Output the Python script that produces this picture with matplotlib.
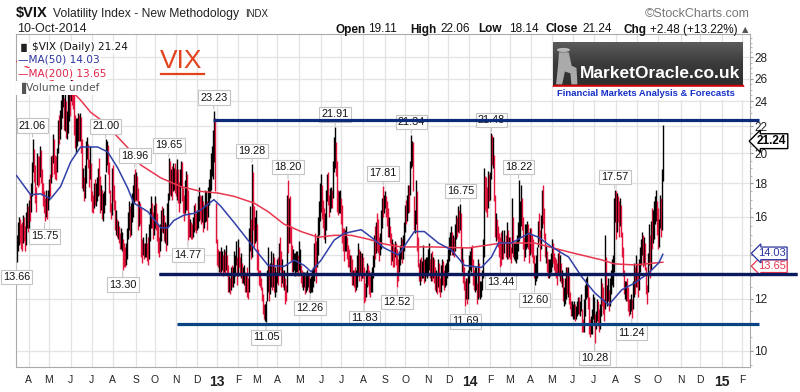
import matplotlib
matplotlib.use('Agg')
import matplotlib.pyplot as plt
import matplotlib.transforms as mtransforms
from matplotlib.ticker import FixedLocator, FixedFormatter, NullFormatter
from matplotlib.patches import Rectangle, Circle, Polygon
import numpy as np
import pandas as pd

plt.rcParams['font.family'] = ['Liberation Sans', 'DejaVu Sans']

# ---------------- data ----------------
START = '2012-03-15'
CAL_END = '2015-02-27'
HOLIDAYS = ['2012-04-06', '2012-05-28', '2012-07-04', '2012-09-03', '2012-10-29', '2012-10-30',
            '2012-11-22', '2012-12-25', '2013-01-01', '2013-01-21', '2013-02-18', '2013-03-29',
            '2013-05-27', '2013-07-04', '2013-09-02', '2013-11-28', '2013-12-25', '2014-01-01',
            '2014-01-20', '2014-02-17', '2014-04-18', '2014-05-26', '2014-07-04', '2014-09-01',
            '2014-11-27', '2014-12-25', '2015-01-01', '2015-01-19', '2015-02-16']

close = [
    14.5, 15.0, 15.6, 15.1, 14.9, 14.8, 15.5, 15.3, 14.6, 15.6,
    16.3, 15.5, 16.6, 16.4, 17.2, 18.8, 20.4, 18.8, 17.4, 16.9,
    19.5, 18.6, 18.5, 20.1, 18.6, 18.0, 17.2, 16.8, 16.3, 16.9,
    16.5, 17.1, 17.8, 17.6, 19.2, 19.0, 20.7, 19.1, 19.0, 18.8,
    19.9, 21.9, 21.5, 22.3, 22.8, 24.5, 25.1, 22.0, 22.5, 21.8,
    21.8, 24.1, 24.1, 23.3, 26.7, 24.1, 23.8, 22.2, 21.0, 21.2,
    21.7, 22.1, 21.8, 22.3, 21.1, 18.3, 18.3, 17.2, 18.1, 20.1,
    20.6, 19.5, 18.4, 19.7, 17.1, 16.8, 16.7, 17.5, 17.1, 17.1,
    17.9, 18.3, 18.2, 16.7, 17.1, 16.5, 16.6, 16.9, 17.5, 20.2,
    20.5, 19.3, 18.0, 16.7, 16.3, 18.9, 17.6, 17.0, 15.6, 15.9,
    15.3, 15.3, 15.0, 14.6, 14.7, 14.7, 14.2, 13.7, 13.5, 14.0,
    15.1, 15.5, 16.3, 15.2, 16.3, 16.7, 17.1, 18.0, 17.5, 17.98,
    17.7, 15.6, 16.4, 16.3, 14.1, 14.0, 14.6, 14.2, 14.2, 14.2,
    14.1, 13.9, 15.3, 15.4, 16.3, 15.9, 15.3, 16.0, 16.3, 16.0,
    15.4, 14.6, 14.3, 14.8, 16.0, 15.9, 15.9, 15.2, 15.2, 14.7,
    15.6, 17.1, 18.9, 18.1, 18.1, 17.7, 18.3, 18.6, 18.4, 18.2,
    18.6, 17.6, 17.0, 18.4, 19.1, 17.6, 16.6, 16.4, 17.5, 17.9,
    17.5, 16.4, 15.2, 15.3, 15.2, 15.1, 15.5, 16.2, 15.9, 15.6,
    15.9, 16.0, 17.0, 16.6, 16.5, 16.6, 15.6, 16.0, 16.3, 16.6,
    15.9, 17.1, 17.4, 18.0, 18.9, 19.5, 19.5, 22.7, 18.0, 14.7,
    14.0, 13.8, 13.8, 13.6, 13.7, 13.8, 13.4, 13.8, 13.6, 13.8,
    13.6, 12.5, 12.5, 12.4, 13.0, 12.9, 12.9, 13.6, 13.6, 14.3,
    12.9, 14.7, 13.7, 13.4, 13.4, 13.0, 13.0, 13.0, 12.6, 12.7,
    12.5, 12.3, 14.7, 15.2, 14.0, 18.99, 16.0, 14.8, 15.0, 15.4,
    13.8, 13.5, 12.9, 12.8, 12.6, 12.0, 11.6, 11.3, 11.3, 11.3,
    12.5, 13.0, 12.0, 13.0, 13.0, 12.7, 13.6, 12.6, 12.7, 12.7,
    13.6, 13.0, 14.2, 13.9, 12.9, 13.2, 12.8, 12.8, 12.2, 12.1,
    17.3, 14.6, 16.5, 14.97, 14.0, 13.5, 13.5, 13.6, 13.6, 13.6,
    13.7, 13.5, 13.6, 13.6, 12.9, 12.7, 12.7, 12.8, 12.6, 12.6,
    12.7, 12.8, 12.3, 12.4, 12.5, 12.5, 13.0, 14.0, 13.8, 12.9,
    14.5, 15.0, 16.3, 16.9, 17.5, 16.3, 15.9, 15.1, 15.4, 16.8,
    18.0, 17.1, 16.4, 16.7, 17.0, 16.8, 18.9, 20.5, 20.9, 18.9,
    17.0, 16.7, 16.9, 16.9, 16.1, 15.0, 14.5, 14.4, 14.8, 14.8,
    14.2, 14.0, 13.8, 13.8, 13.4, 13.0, 13.0, 12.9, 12.6, 13.0,
    13.4, 14.0, 13.5, 13.7, 13.4, 13.7, 13.4, 12.9, 12.0, 12.7,
    13.0, 12.9, 12.7, 12.4, 12.8, 13.0, 13.3, 14.5, 14.4, 15.1,
    15.0, 14.8, 13.9, 14.8, 14.9, 16.8, 16.3, 16.8, 17.0, 16.6,
    16.4, 15.3, 15.4, 15.0, 13.8, 14.5, 14.0, 13.8, 14.4, 14.0,
    13.6, 13.1, 14.0, 14.0, 14.2, 14.1, 14.5, 15.3, 16.4, 16.1,
    16.6, 17.7, 16.7, 19.4, 20.3, 20.3, 18.4, 15.7, 16.1, 18.1,
    14.7, 13.5, 13.0, 13.3, 13.2, 13.2, 13.3, 13.1, 13.3, 13.4,
    13.4, 13.8, 13.8, 13.2, 13.7, 13.4, 13.4, 12.9, 12.7, 12.8,
    12.5, 13.4, 12.8, 12.2, 12.9, 13.1, 13.0, 12.6, 12.8, 13.0,
    13.3, 13.9, 14.4, 14.6, 14.9, 14.4, 14.5, 14.3, 15.0, 15.6,
    15.4, 16.0, 15.8, 15.9, 13.8, 13.8, 13.0, 12.8, 12.0, 12.5,
    12.3, 12.5, 13.6, 13.7, 14.2, 13.8, 13.0, 12.9, 12.9, 12.9,
    12.1, 13.3, 12.3, 12.3, 12.4, 12.9, 13.8, 18.1, 17.4, 17.3,
    16.5, 18.4, 17.3, 18.4, 21.4, 19.9, 19.95, 17.2, 15.3, 15.4,
    15.3, 14.8, 14.3, 14.1, 13.6, 14.4, 14.2, 14.7, 14.3, 14.5,
    14.2, 14.4, 14.3, 14.0, 16.0, 14.1, 14.2, 14.2, 14.2, 14.2,
    14.8, 16.2, 16.2, 17.8, 15.6, 14.5, 14.3, 14.5, 15.0, 15.1,
    14.8, 14.0, 14.9, 14.6, 14.4, 13.9, 13.1, 13.1, 13.4, 13.4,
    15.6, 14.9, 13.8, 15.9, 17.0, 16.1, 15.1, 14.0, 14.2, 13.4,
    13.2, 13.3, 13.3, 13.7, 14.1, 13.97, 13.7, 13.4, 13.2, 13.0,
    13.8, 13.4, 13.4, 12.9, 12.9, 12.1, 12.2, 12.2, 13.2, 12.4,
    12.96, 12.0, 11.9, 11.4, 11.4, 11.5, 11.7, 11.4, 11.5, 11.6,
    11.9, 11.6, 11.7, 11.7, 11.1, 11.0, 11.4, 12.2, 12.6, 12.6,
    12.1, 11.0, 10.6, 10.9, 11.0, 11.6, 11.6, 11.0, 11.3, 11.6,
    11.2, 11.0, 11.3, 12.5, 12.0, 11.8, 11.3, 14.5, 12.1, 12.1,
    12.2, 11.8, 12.7, 12.8, 13.3, 13.3, 16.9, 16.95, 15.1, 16.7,
    16.4, 15.8, 16.7, 15.1, 14.2, 13.2, 12.4, 12.4, 12.4, 12.3,
    11.8, 11.5, 11.7, 11.8, 11.5, 12.3, 12.9, 12.6, 13.3, 13.0,
    12.5, 13.3, 13.9, 14.1, 14.9, 13.8, 14.7, 13.9, 12.8, 12.1,
    13.7, 14.9, 13.1, 15.6, 14.9, 15.0, 16.0, 16.3, 16.7, 15.3,
    14.6, 15.5, 17.2, 15.1, 18.76, 21.24,
]

low = [
    13.66, 14.2, 14.5, 14.6, 14.3, 14.2, 14.6, 14.7, 14.2, 14.5,
    15.4, 15.2, 15.4, 15.8, 16.3, 17.2, 18.7, 18.1, 16.8, 16.3,
    17.9, 17.8, 17.9, 18.4, 18.0, 17.3, 16.6, 16.2, 15.75, 16.0,
    15.9, 16.4, 17.0, 17.2, 18.0, 18.4, 19.3, 18.6, 18.3, 18.2,
    18.7, 20.0, 20.7, 21.0, 21.8, 22.6, 23.5, 21.7, 21.6, 21.1,
    21.0, 21.5, 22.4, 22.8, 24.0, 23.7, 23.4, 21.3, 20.4, 20.0,
    20.5, 20.9, 20.9, 20.9, 20.0, 17.7, 17.5, 16.9, 17.1, 18.0,
    19.6, 19.0, 17.8, 18.3, 16.9, 16.3, 16.2, 16.5, 16.7, 16.6,
    16.9, 17.2, 17.3, 16.2, 16.4, 15.9, 15.8, 16.2, 16.7, 18.7,
    19.2, 18.6, 17.4, 16.3, 15.9, 16.1, 16.9, 16.4, 15.3, 15.0,
    14.9, 14.8, 14.6, 14.3, 14.3, 14.2, 13.3, 13.4, 13.4, 13.5,
    13.8, 14.8, 15.3, 14.9, 15.0, 15.7, 16.0, 16.8, 16.9, 17.0,
    16.9, 15.3, 15.5, 15.6, 13.9, 13.6, 14.0, 13.8, 13.9, 13.9,
    13.7, 13.5, 13.8, 14.7, 15.4, 15.4, 14.8, 15.0, 15.4, 15.3,
    14.7, 14.1, 13.9, 14.2, 14.7, 15.2, 15.1, 14.7, 14.6, 14.2,
    14.5, 15.5, 17.0, 17.3, 17.2, 17.0, 17.5, 17.6, 17.4, 17.2,
    17.0, 16.8, 16.3, 16.8, 17.8, 16.9, 16.2, 15.8, 16.2, 16.4,
    16.4, 14.77, 14.9, 14.9, 14.8, 14.8, 14.9, 15.2, 15.3, 15.1,
    15.3, 15.4, 15.8, 15.9, 15.6, 15.7, 15.2, 15.4, 15.7, 15.8,
    15.3, 16.0, 16.7, 17.1, 17.6, 18.5, 18.3, 19.4, 17.5, 14.6,
    13.5, 13.4, 13.2, 13.1, 13.2, 13.3, 13.0, 13.2, 13.1, 13.3,
    13.0, 12.3, 12.3, 12.2, 12.4, 12.5, 12.5, 12.7, 13.0, 13.5,
    12.6, 13.0, 13.4, 13.0, 12.9, 12.7, 12.7, 12.6, 12.3, 12.3,
    12.1, 12.0, 12.3, 14.2, 13.8, 13.9, 15.3, 14.4, 14.6, 14.7,
    13.3, 13.1, 12.6, 12.5, 12.4, 11.9, 11.4, 11.2, 11.1, 11.05,
    11.9, 12.3, 11.9, 12.2, 12.5, 12.4, 12.5, 12.3, 12.1, 12.3,
    12.7, 12.6, 13.1, 13.3, 12.5, 12.7, 12.5, 12.4, 11.8, 11.9,
    12.3, 14.1, 14.6, 14.6, 13.7, 13.2, 13.2, 13.3, 13.0, 13.2,
    13.2, 13.0, 13.3, 13.1, 12.7, 12.5, 12.4, 12.5, 12.2, 12.3,
    12.4, 12.5, 12.3, 12.26, 12.3, 12.3, 12.5, 12.8, 13.2, 12.7,
    13.4, 14.0, 15.0, 15.8, 16.3, 15.9, 15.4, 14.8, 14.6, 15.3,
    16.9, 16.7, 16.0, 16.3, 16.5, 16.5, 17.1, 18.7, 19.0, 18.5,
    16.3, 16.1, 16.2, 16.2, 15.6, 14.6, 14.2, 13.7, 14.2, 14.2,
    13.8, 13.4, 13.4, 13.2, 13.0, 12.6, 12.6, 12.5, 12.3, 12.4,
    12.5, 13.0, 12.8, 13.1, 12.8, 12.9, 12.9, 11.83, 11.9, 12.1,
    12.5, 12.6, 12.2, 12.1, 12.3, 12.3, 12.9, 13.4, 13.8, 14.1,
    14.2, 14.1, 13.7, 14.0, 14.3, 15.4, 16.0, 16.2, 16.5, 16.0,
    15.5, 14.9, 14.9, 14.6, 13.5, 13.7, 13.4, 13.4, 13.9, 13.5,
    12.52, 12.8, 13.2, 13.5, 13.8, 13.6, 13.8, 14.2, 15.2, 15.6,
    15.8, 16.2, 16.3, 17.3, 19.0, 19.1, 17.5, 15.3, 15.1, 15.6,
    14.2, 13.4, 12.8, 12.6, 12.8, 12.9, 12.9, 12.7, 12.8, 13.0,
    12.9, 13.1, 13.3, 12.9, 12.8, 12.8, 12.9, 12.7, 12.4, 12.3,
    12.2, 12.5, 12.3, 12.1, 12.3, 12.6, 12.6, 12.4, 12.5, 12.6,
    12.9, 13.2, 13.7, 14.0, 14.2, 14.0, 14.0, 13.9, 14.2, 14.8,
    14.9, 15.2, 15.1, 15.3, 13.6, 13.2, 12.7, 12.4, 11.69, 12.0,
    11.8, 12.0, 12.7, 13.3, 13.2, 13.4, 12.6, 12.4, 12.3, 12.4,
    11.8, 12.0, 12.1, 12.0, 12.1, 12.4, 12.9, 13.9, 16.4, 16.3,
    16.0, 16.5, 16.9, 17.0, 18.3, 19.2, 19.0, 16.9, 14.9, 14.7,
    14.8, 14.4, 13.9, 13.44, 13.5, 13.8, 13.8, 14.1, 13.9, 13.8,
    13.8, 13.9, 13.8, 13.6, 14.1, 13.9, 13.8, 13.7, 13.6, 13.8,
    14.2, 14.7, 14.9, 15.5, 15.3, 14.3, 13.7, 13.9, 14.3, 14.4,
    14.3, 13.6, 14.0, 14.1, 13.9, 13.6, 12.9, 12.6, 12.8, 12.9,
    14.4, 14.7, 13.7, 14.3, 15.4, 15.6, 14.8, 13.9, 13.6, 13.2,
    12.9, 12.9, 13.0, 13.2, 13.4, 13.6, 13.3, 13.1, 12.9, 12.6,
    13.1, 13.0, 12.8, 12.7, 12.5, 11.9, 11.7, 11.8, 12.0, 12.2,
    12.1, 11.8, 11.6, 11.3, 11.3, 11.2, 11.2, 11.1, 11.2, 11.3,
    11.4, 11.4, 11.3, 11.5, 10.7, 10.7, 10.7, 11.3, 12.0, 12.1,
    11.6, 10.6, 10.5, 10.6, 10.6, 11.2, 11.0, 10.28, 10.8, 11.1,
    10.9, 10.7, 10.8, 11.3, 11.7, 11.4, 11.1, 11.6, 11.9, 11.7,
    11.9, 11.5, 11.7, 12.2, 12.6, 12.5, 13.2, 15.7, 14.8, 15.2,
    15.7, 14.9, 15.5, 14.9, 13.9, 13.0, 12.2, 12.0, 11.9, 11.9,
    11.5, 11.3, 11.4, 11.5, 11.24, 11.6, 12.1, 12.2, 12.5, 12.5,
    12.1, 12.4, 13.2, 13.5, 14.0, 13.4, 13.5, 13.3, 12.2, 11.8,
    12.3, 13.5, 12.9, 13.3, 14.3, 14.6, 14.8, 15.6, 15.8, 15.0,
    14.3, 14.4, 15.4, 14.9, 15.3, 18.14,
]

high = [
    15.0, 15.7, 16.0, 15.9, 15.6, 15.7, 16.1, 16.0, 15.5, 16.3,
    16.8, 16.6, 17.0, 17.4, 18.0, 19.4, 21.06, 20.3, 19.2, 17.8,
    20.0, 19.8, 19.8, 20.5, 20.2, 18.9, 18.0, 17.5, 17.1, 17.6,
    17.2, 17.6, 18.3, 18.6, 19.8, 19.9, 21.4, 21.0, 19.9, 19.8,
    20.4, 22.5, 22.9, 23.3, 24.1, 25.1, 25.4, 24.3, 24.8, 24.0,
    23.2, 24.6, 25.3, 25.2, 26.7, 26.2, 25.0, 24.7, 22.9, 22.6,
    22.6, 23.0, 22.9, 23.0, 22.7, 21.0, 19.0, 18.4, 19.2, 20.9,
    21.2, 20.7, 19.6, 20.5, 19.3, 17.5, 17.3, 18.0, 18.3, 18.0,
    18.4, 19.0, 19.7, 18.5, 17.9, 17.6, 17.4, 17.5, 18.6, 21.0,
    20.9, 20.6, 19.4, 17.6, 16.8, 19.0, 19.2, 17.9, 17.0, 16.4,
    15.9, 15.8, 15.5, 15.1, 15.4, 15.2, 14.8, 14.6, 14.4, 14.6,
    15.4, 16.3, 16.9, 16.6, 16.8, 17.4, 17.9, 18.6, 18.96, 18.7,
    18.5, 17.7, 16.9, 16.8, 16.5, 14.8, 14.9, 14.6, 14.6, 15.1,
    14.6, 14.9, 15.6, 16.5, 17.2, 16.8, 16.3, 16.7, 17.2, 16.8,
    16.2, 15.6, 14.9, 15.6, 16.4, 16.6, 16.5, 16.1, 15.7, 15.6,
    16.8, 17.4, 19.65, 19.5, 18.9, 19.1, 19.3, 19.0, 19.3, 18.9,
    19.6, 18.9, 18.1, 18.9, 19.5, 19.4, 17.7, 17.3, 18.2, 18.8,
    18.6, 17.6, 16.3, 15.9, 15.7, 15.6, 16.0, 16.7, 16.8, 16.2,
    16.4, 17.2, 17.8, 17.3, 17.2, 17.3, 16.9, 16.7, 17.6, 17.5,
    16.9, 17.8, 18.3, 18.9, 20.0, 20.5, 21.7, 23.23, 22.6, 16.8,
    14.8, 14.3, 14.2, 14.2, 14.4, 14.2, 14.0, 14.3, 14.2, 14.5,
    14.0, 13.5, 13.0, 12.9, 13.4, 13.5, 13.4, 14.2, 14.0, 14.7,
    13.9, 14.8, 14.4, 13.9, 14.1, 13.6, 13.4, 13.5, 13.2, 13.1,
    13.4, 12.9, 15.4, 16.6, 15.9, 19.28, 18.7, 16.6, 16.0, 16.4,
    15.6, 14.3, 13.3, 13.3, 12.9, 12.5, 12.2, 11.8, 11.8, 11.9,
    13.3, 14.4, 13.5, 13.6, 14.2, 13.6, 14.1, 13.9, 13.4, 13.2,
    13.8, 13.9, 14.6, 14.9, 14.2, 13.8, 13.3, 13.3, 12.9, 12.6,
    17.3, 18.2, 17.1, 17.2, 15.5, 14.5, 14.3, 14.1, 14.1, 14.2,
    14.2, 14.0, 14.7, 14.3, 13.5, 13.3, 13.2, 13.2, 13.0, 13.2,
    13.3, 13.1, 13.1, 12.9, 13.0, 13.3, 13.4, 14.6, 15.1, 14.7,
    15.0, 16.0, 16.9, 18.0, 18.6, 17.9, 17.0, 16.5, 16.2, 17.6,
    18.6, 18.7, 17.3, 17.7, 17.8, 17.6, 19.5, 21.2, 21.91, 20.8,
    19.5, 17.6, 17.5, 17.6, 17.1, 16.7, 15.4, 15.4, 15.3, 15.5,
    14.9, 14.5, 14.3, 14.0, 14.0, 13.8, 13.3, 13.3, 13.4, 13.3,
    14.0, 14.6, 14.3, 14.2, 14.1, 14.1, 13.9, 13.4, 12.7, 13.3,
    13.6, 13.5, 13.3, 13.0, 13.2, 13.4, 14.0, 15.0, 15.5, 15.7,
    16.2, 15.9, 14.9, 15.1, 16.4, 17.1, 17.81, 17.3, 17.5, 17.2,
    16.9, 16.5, 16.0, 15.5, 15.1, 14.8, 14.6, 14.4, 14.7, 14.6,
    14.3, 13.8, 14.2, 14.5, 14.9, 14.8, 15.0, 15.7, 16.7, 17.0,
    17.3, 17.9, 17.9, 19.5, 21.34, 20.9, 20.8, 17.2, 16.4, 18.2,
    17.5, 14.9, 13.6, 13.8, 13.9, 13.7, 14.5, 13.8, 13.8, 13.9,
    13.9, 14.3, 14.6, 13.8, 14.1, 14.2, 13.9, 13.8, 13.4, 13.3,
    13.0, 13.8, 13.6, 12.9, 13.5, 13.8, 13.7, 13.3, 13.5, 13.6,
    13.8, 14.3, 14.9, 15.2, 15.5, 15.2, 15.0, 14.9, 15.6, 16.1,
    16.0, 16.6, 16.4, 16.75, 16.2, 14.4, 13.8, 13.4, 12.8, 12.9,
    12.9, 13.3, 14.0, 14.2, 14.4, 14.5, 13.8, 13.3, 13.4, 13.4,
    12.7, 13.8, 13.6, 12.8, 12.8, 13.3, 14.8, 19.0, 18.5, 18.4,
    17.8, 18.8, 18.6, 18.7, 21.48, 21.3, 21.2, 19.9, 17.3, 16.2,
    15.9, 15.5, 15.1, 14.9, 15.2, 15.3, 14.7, 15.3, 15.0, 15.7,
    15.3, 14.9, 14.9, 14.4, 17.1, 16.0, 14.6, 14.6, 14.7, 15.0,
    15.7, 18.22, 16.9, 17.9, 17.1, 16.0, 14.9, 15.6, 15.6, 15.8,
    15.6, 15.2, 15.4, 15.4, 15.0, 14.8, 14.0, 13.6, 14.0, 14.4,
    15.8, 16.2, 15.3, 16.1, 17.6, 17.9, 16.5, 15.1, 14.5, 14.2,
    13.8, 13.8, 13.8, 14.1, 14.8, 14.6, 14.1, 13.9, 13.8, 13.6,
    14.1, 14.3, 14.0, 13.6, 13.3, 12.9, 12.5, 12.9, 13.4, 13.4,
    13.4, 13.0, 12.3, 11.9, 11.9, 11.8, 11.9, 11.8, 11.7, 11.9,
    12.1, 12.1, 11.9, 12.2, 11.6, 11.2, 12.0, 12.6, 12.9, 13.0,
    12.6, 12.1, 11.2, 11.3, 11.6, 12.2, 12.1, 11.4, 11.5, 12.0,
    11.9, 11.6, 11.8, 12.9, 12.7, 12.5, 12.0, 15.0, 13.9, 12.6,
    12.9, 12.4, 12.9, 13.3, 13.8, 14.0, 17.1, 17.57, 17.5, 17.4,
    17.2, 16.9, 17.1, 16.7, 15.2, 14.4, 13.3, 12.8, 12.8, 12.9,
    12.5, 12.0, 12.0, 12.2, 12.0, 12.8, 13.6, 13.4, 14.0, 13.6,
    13.2, 13.8, 14.4, 14.8, 15.2, 15.0, 14.9, 14.6, 13.4, 12.6,
    14.1, 15.6, 15.0, 15.8, 16.5, 16.4, 16.9, 17.2, 17.6, 16.9,
    16.5, 15.9, 17.3, 17.1, 18.9, 22.06,
]

# moving averages (bar index, value)
ma50_idx = [0, 14, 24, 34, 44, 54, 64, 81, 91, 101, 111, 117, 131, 144, 151, 157, 167, 177, 184,
            197, 204, 217, 231, 241, 251, 267, 277, 287, 294, 304, 317, 327, 344, 354, 367, 381,
            397, 407, 421, 434, 447, 464, 474, 481, 494, 511, 521, 534, 551, 564, 577, 591, 604,
            617, 631, 641, 645]
ma50_val = [18.5, 17.3, 17.35, 17.05, 17.8, 19.4, 20.45, 20.45, 20.1, 19.0, 17.7, 16.8, 16.3,
            15.4, 15.4, 15.8, 16.1, 16.2, 16.4, 17.0, 16.6, 15.7, 14.75, 14.1, 13.5, 13.45, 13.75,
            13.5, 13.2, 13.75, 14.75, 15.1, 15.3, 14.9, 14.35, 14.0, 15.2, 15.2, 14.6, 14.25,
            13.5, 13.4, 13.9, 14.6, 14.6, 15.1, 14.9, 14.4, 13.9, 12.97, 12.26, 11.75, 12.39,
            12.69, 13.15, 13.62, 14.03]
ma200_idx = [0, 20, 40, 56, 64, 74, 84, 97, 111, 124, 144, 164, 184, 201, 217, 237, 251, 267, 284,
             301, 317, 334, 351, 367, 384, 417, 451, 484, 517, 551, 584, 597, 617, 645]
ma200_val = [27.6, 26.6, 25.6, 24.8, 24.1, 23.1, 22.5, 21.5, 20.4, 19.2, 18.35, 17.8, 17.5, 17.4,
             17.2, 16.8, 16.3, 15.6, 15.2, 14.9, 15.0, 15.0, 14.8, 14.55, 14.4, 14.4, 14.35, 14.6,
             14.6, 14.15, 13.76, 13.57, 13.52, 13.65]
ma50_last, ma200_last = 14.03, 13.65

peak_idx = [16, 89, 118, 152, 197, 235, 271, 318, 366, 394, 443, 474, 501, 597]
trough_idx = [0, 28, 106, 171, 249, 293, 347, 380, 448, 483, 517, 577, 614]

# hand-drawn support / resistance lines: level, start bar, end bar
line_levels = [22.45, 13.1, 10.99]
line_start = [196, 142, 160]
line_end = [741, 779, 741]
line_colors = ['#0b2a78', '#0a1a5c', '#0a4283']

last_date = '10-Oct-2014'
last_open, last_high, last_low, last_close = 19.11, 22.06, 18.14, 21.24
chg, chg_pct = 2.48, 13.22
yticks = [10, 12, 14, 16, 18, 20, 22, 24, 26, 28]

# ---------------- figure ----------------
W, H = 800, 392
fig = plt.figure(figsize=(W / 100, H / 100), dpi=100)
fig.patch.set_facecolor('white')
L_PX, R_PX, T_PX, B_PX = 16, 750, 34, 367
ax = fig.add_axes([L_PX / W, 1 - B_PX / H, (R_PX - L_PX) / W, (B_PX - T_PX) / H])

def fx(x):
    return x / W

def fy(y):
    return 1 - y / H

n = len(close)
assert len(low) == n and len(high) == n
idx = np.arange(n)
cal = pd.bdate_range(START, CAL_END, freq='C', holidays=HOLIDAYS)

RED = '#e3143c'
cols = ['black' if (i == 0 or close[i] >= close[i - 1]) else RED for i in range(n)]
ax.vlines(idx, low, high, colors=cols, lw=1.0, zorder=2)

ax.plot(ma200_idx, ma200_val, color='#e8364f', lw=1.1, zorder=3)
ax.plot(ma50_idx, ma50_val, color='#3140a8', lw=1.1, zorder=3)

ax.set_yscale('log')
ax.set_ylim(9.45, 30.4)
ax.set_xlim(-0.5, 732)
ax.yaxis.set_major_locator(FixedLocator(yticks))
ax.yaxis.set_major_formatter(FixedFormatter([str(t) for t in yticks]))
ax.yaxis.set_minor_locator(FixedLocator(list(np.arange(9.5, 30.1, 0.5))))
ax.yaxis.set_minor_formatter(NullFormatter())
ax.yaxis.tick_right()
ax.tick_params(axis='y', which='major', length=2, color='#999999', labelsize=8.5,
               labelcolor='#222222', pad=1)
ax.tick_params(axis='y', which='minor', length=1.5, color='#aaaaaa')

# month ticks
months = pd.Series(np.arange(len(cal)), index=cal)
firsts = months.groupby([cal.year, cal.month]).first()
tick_pos, tick_lab, is_year = [], [], []
for (yr, mo), pos in firsts.items():
    if pos == 0:
        continue
    tick_pos.append(pos)
    if mo == 1:
        tick_lab.append(str(yr)[2:])
        is_year.append(True)
    else:
        tick_lab.append(pd.Timestamp(year=yr, month=mo, day=1).strftime('%b')[0])
        is_year.append(False)
ax.set_xticks(tick_pos)
ax.set_xticklabels(tick_lab)
ax.tick_params(axis='x', length=0, pad=6, labelsize=7.5, labelcolor='#222222')
for lab, yb in zip(ax.get_xticklabels(), is_year):
    if yb:
        lab.set_fontweight('bold')
        lab.set_fontsize(10)

ax.grid(True, which='major', color='#e3e3e3', lw=0.9, zorder=0)
ax.set_axisbelow(True)
for s in ax.spines.values():
    s.set_color('#aaaaaa')
    s.set_linewidth(0.8)

# value labels
box = dict(boxstyle='square,pad=0.2', fc='white', ec='#c4c4c4', lw=0.8)
arr = dict(arrowstyle='-', color='#c4c4c4', lw=0.8, shrinkA=0, shrinkB=1)
for i in peak_idx:
    ax.annotate(f'{high[i]:.2f}', xy=(i, high[i]), xytext=(0, 13), textcoords='offset pixels',
                ha='center', va='center', fontsize=7.8, color='#111111', bbox=box,
                arrowprops=arr, zorder=4, annotation_clip=False)
for i in trough_idx:
    ax.annotate(f'{low[i]:.2f}', xy=(i, low[i]), xytext=(0, -15), textcoords='offset pixels',
                ha='center', va='center', fontsize=7.8, color='#111111', bbox=box,
                arrowprops=arr, zorder=4, annotation_clip=False)

# support / resistance lines
for lv, s0, s1, c in zip(line_levels, line_start, line_end, line_colors):
    ax.plot([s0, s1], [lv, lv], color=c, lw=2.3, solid_capstyle='butt', zorder=5, clip_on=False)

# right-side value flags
blend = mtransforms.blended_transform_factory(ax.transAxes, ax.transData)
ax.annotate(f'{ma200_last:.2f}', xy=(1.0, ma200_last), xycoords=blend, xytext=(8, -4),
            textcoords='offset pixels', ha='left', va='center', fontsize=8, color='#e8364f',
            bbox=dict(boxstyle='larrow,pad=0.12', fc='white', ec='#e8364f', lw=0.9),
            zorder=6, annotation_clip=False)
ax.annotate(f'{ma50_last:.2f}', xy=(1.0, ma50_last), xycoords=blend, xytext=(8, 1),
            textcoords='offset pixels', ha='left', va='center', fontsize=8, color='#2a34a0',
            bbox=dict(boxstyle='larrow,pad=0.12', fc='white', ec='#2a34a0', lw=0.9),
            zorder=6, annotation_clip=False)
ax.annotate(f'{last_close:.2f}', xy=(1.0, last_close), xycoords=blend, xytext=(7, -5),
            textcoords='offset pixels', ha='left', va='center', fontsize=8.5,
            fontweight='bold', color='black',
            bbox=dict(boxstyle='larrow,pad=0.12', fc='white', ec='black', lw=1.0),
            zorder=6, annotation_clip=False)
# middle line drawn again on top of flags
ax.plot([line_start[1], line_end[1]], [line_levels[1]] * 2, color=line_colors[1], lw=2.3,
        solid_capstyle='butt', zorder=7, clip_on=False)

# ---------------- header ----------------
fig.text(fx(16), fy(17), '$VIX', fontsize=10.5, fontweight='bold', color='#111111', va='baseline')
fig.text(fx(53), fy(17), 'Volatility Index - New Methodology', fontsize=8.7, color='#222222',
         va='baseline')
fig.text(fx(245), fy(17), 'INDX', fontsize=7, color='#222222', va='baseline')
fig.text(fx(750), fy(17), '\u00a9StockCharts.com', fontsize=9, color='#777777', va='baseline',
         ha='right')
fig.text(fx(17), fy(32.5), last_date, fontsize=9, color='#222222', va='baseline')
row = [('Open', True, 335), (f'{last_open:.2f}', False, 368), ('High', True, 410),
       (f'{last_high:.2f}', False, 440), ('Low', True, 478), (f'{last_low:.2f}', False, 509),
       ('Close', True, 546), (f'{last_close:.2f}', False, 582), ('Chg', True, 623),
       (f'+{chg:.2f} (+{chg_pct:.2f}%)', False, 650)]
for txt, bold, xp in row:
    fig.text(fx(xp), fy(32.5), txt, fontsize=8.5, fontweight='bold' if bold else 'normal',
             color='#111111', va='baseline')
fig.text(fx(742), fy(32), '\u25b2', fontsize=6, color='#555555', va='baseline',
         family='DejaVu Sans')

# legend inside chart
wb = dict(boxstyle='square,pad=0.05', fc='white', ec='none')
fig.text(fx(18), fy(50), '\u2590\u258c', fontsize=6, color='#222222', va='baseline',
         family='DejaVu Sans', bbox=wb)
fig.text(fx(32), fy(50), '$VIX (Daily) 21.24', fontsize=7.6, color='#111111', va='baseline',
         family='DejaVu Sans', bbox=wb)
fig.text(fx(18), fy(63), '\u2014MA(50) 14.03', fontsize=7.6, color='#2a34a0', va='baseline',
         family='DejaVu Sans', bbox=wb)
fig.text(fx(18), fy(77), '\u2014MA(200) 13.65', fontsize=7.6, color='#e0254a', va='baseline',
         family='DejaVu Sans', bbox=wb)
fig.text(fx(18), fy(90.5), '\u2590Volume undef', fontsize=7.6, color='#555555', va='baseline',
         family='DejaVu Sans', bbox=dict(boxstyle='square,pad=0.15', fc='white', ec='none'))

# big VIX tag
fig.text(fx(160), fy(67.5), 'VIX', fontsize=19, color='#e2431c', va='baseline')
fig.add_artist(plt.Line2D([fx(161), fx(204)], [fy(73.5), fy(73.5)], color='#e2431c', lw=1.6))

# ---------------- MarketOracle logo ----------------
lax = fig.add_axes([fx(553), fy(86), (743 - 553) / W, (86 - 42) / H])
grad = np.linspace(0.0, 1.0, 50).reshape(-1, 1)
lax.imshow(grad, aspect='auto', cmap=matplotlib.colors.LinearSegmentedColormap.from_list(
    'g', ['#5b5b5b', '#3a3a3a', '#2e2e2e']), extent=[0, 1, 0, 1])
lax.set_xlim(0, 1)
lax.set_ylim(0, 1)
lax.axis('off')
# statue silhouette
lax.add_patch(Circle((0.055, 0.82), 0.03, transform=lax.transAxes, color='#b8b8b8'))
lax.add_patch(Polygon([[0.035, 0.75], [0.08, 0.75], [0.095, 0.45], [0.12, 0.40], [0.125, 0.05],
                       [0.10, 0.05], [0.095, 0.30], [0.06, 0.35], [0.045, 0.05], [0.02, 0.05],
                       [0.03, 0.45]], closed=True, transform=lax.transAxes, color='#aaaaaa'))
lax.text(0.14, 0.18, 'MarketOracle.co.uk', fontsize=12.5, fontweight='bold', color='white',
         transform=lax.transAxes, va='baseline')
fig.add_artist(Rectangle((fx(553), fy(87)), (743 - 553) / W, 2.5 / H, transform=fig.transFigure,
                         color='#d40000', zorder=10))
fig.add_artist(Rectangle((fx(553), fy(99)), (743 - 553) / W, 12 / H, transform=fig.transFigure,
                         color='white', zorder=10))
fig.text(fx(557), fy(96), 'Financial Markets Analysis & Forecasts', fontsize=6.8,
         fontweight='bold', color='#1530c8', va='baseline', zorder=11)

fig.savefig('out.png', dpi=100, facecolor='white')
